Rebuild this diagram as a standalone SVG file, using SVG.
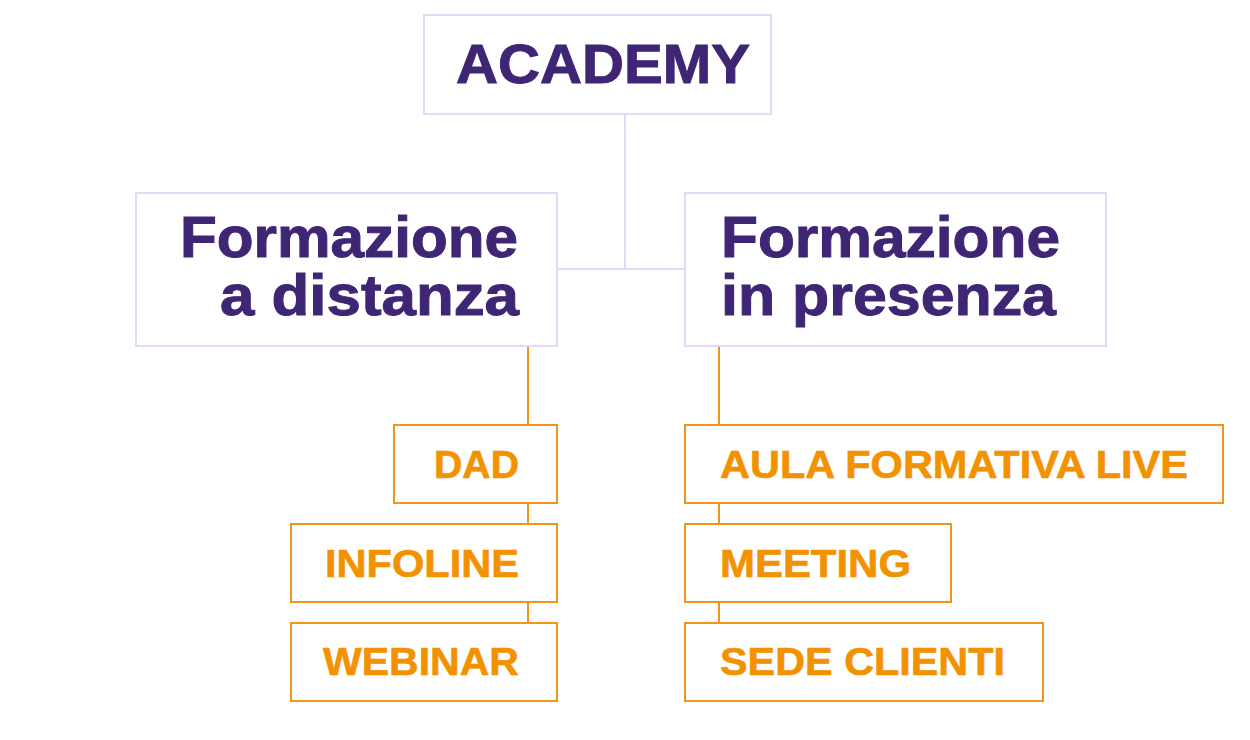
<svg xmlns="http://www.w3.org/2000/svg" width="1250" height="740" viewBox="0 0 1250 740">
<style>
.main{fill:#fff;stroke:#e1dbf8;stroke-width:2}
.sub{fill:#fff;stroke:#f0951a;stroke-width:2}
.pt{font-family:"Liberation Sans",Arial,sans-serif;font-weight:bold;fill:#3f2675;stroke:#3f2675;stroke-width:1}
.ot{font-family:"Liberation Sans",Arial,sans-serif;font-weight:bold;fill:#f39200;stroke:#f39200;stroke-width:0.6;font-size:39px}
.lc{stroke:#e1dbf8;stroke-width:2;fill:none}
.oc{stroke:#f0951a;stroke-width:2;fill:none}
</style>
<rect width="1250" height="740" fill="#fff"/>
<g id="connectors">
<path class="lc" d="M625 114V269M557 269H685"/>
<path class="oc" d="M528 346V425M528 503V524M528 602V623"/>
<path class="oc" d="M719 346V425M719 503V524M719 602V623"/>
</g>
<g id="academy">
<rect class="main" x="424" y="15" width="347" height="99"/>
<text class="pt" x="456" y="83" font-size="56" textLength="294" lengthAdjust="spacingAndGlyphs">ACADEMY</text>
</g>
<g id="distanza">
<rect class="main" x="136" y="193" width="421" height="153"/>
<text class="pt" font-size="57" x="180" y="257" textLength="338" lengthAdjust="spacingAndGlyphs">Formazione</text>
<text class="pt" font-size="57" x="220" y="315" textLength="299" lengthAdjust="spacingAndGlyphs">a distanza</text>
</g>
<g id="presenza">
<rect class="main" x="685" y="193" width="421" height="153"/>
<text class="pt" font-size="57" x="721" y="257" textLength="339" lengthAdjust="spacingAndGlyphs">Formazione</text>
<text class="pt" font-size="57" x="721" y="315" textLength="335" lengthAdjust="spacingAndGlyphs">in presenza</text>
</g>
<g id="dad">
<rect class="sub" x="394" y="425" width="163" height="78"/>
<text class="ot" x="434" y="478" textLength="85" lengthAdjust="spacingAndGlyphs">DAD</text>
</g>
<g id="infoline">
<rect class="sub" x="291" y="524" width="266" height="78"/>
<text class="ot" x="325" y="577" textLength="194" lengthAdjust="spacingAndGlyphs">INFOLINE</text>
</g>
<g id="webinar">
<rect class="sub" x="291" y="623" width="266" height="78"/>
<text class="ot" x="323" y="675" textLength="196" lengthAdjust="spacingAndGlyphs">WEBINAR</text>
</g>
<g id="aula">
<rect class="sub" x="685" y="425" width="538" height="78"/>
<text class="ot" x="720" y="478" textLength="468" lengthAdjust="spacingAndGlyphs">AULA FORMATIVA LIVE</text>
</g>
<g id="meeting">
<rect class="sub" x="685" y="524" width="266" height="78"/>
<text class="ot" x="720" y="577" textLength="191" lengthAdjust="spacingAndGlyphs">MEETING</text>
</g>
<g id="sede">
<rect class="sub" x="685" y="623" width="358" height="78"/>
<text class="ot" x="720" y="675" textLength="285" lengthAdjust="spacingAndGlyphs">SEDE CLIENTI</text>
</g>
</svg>
